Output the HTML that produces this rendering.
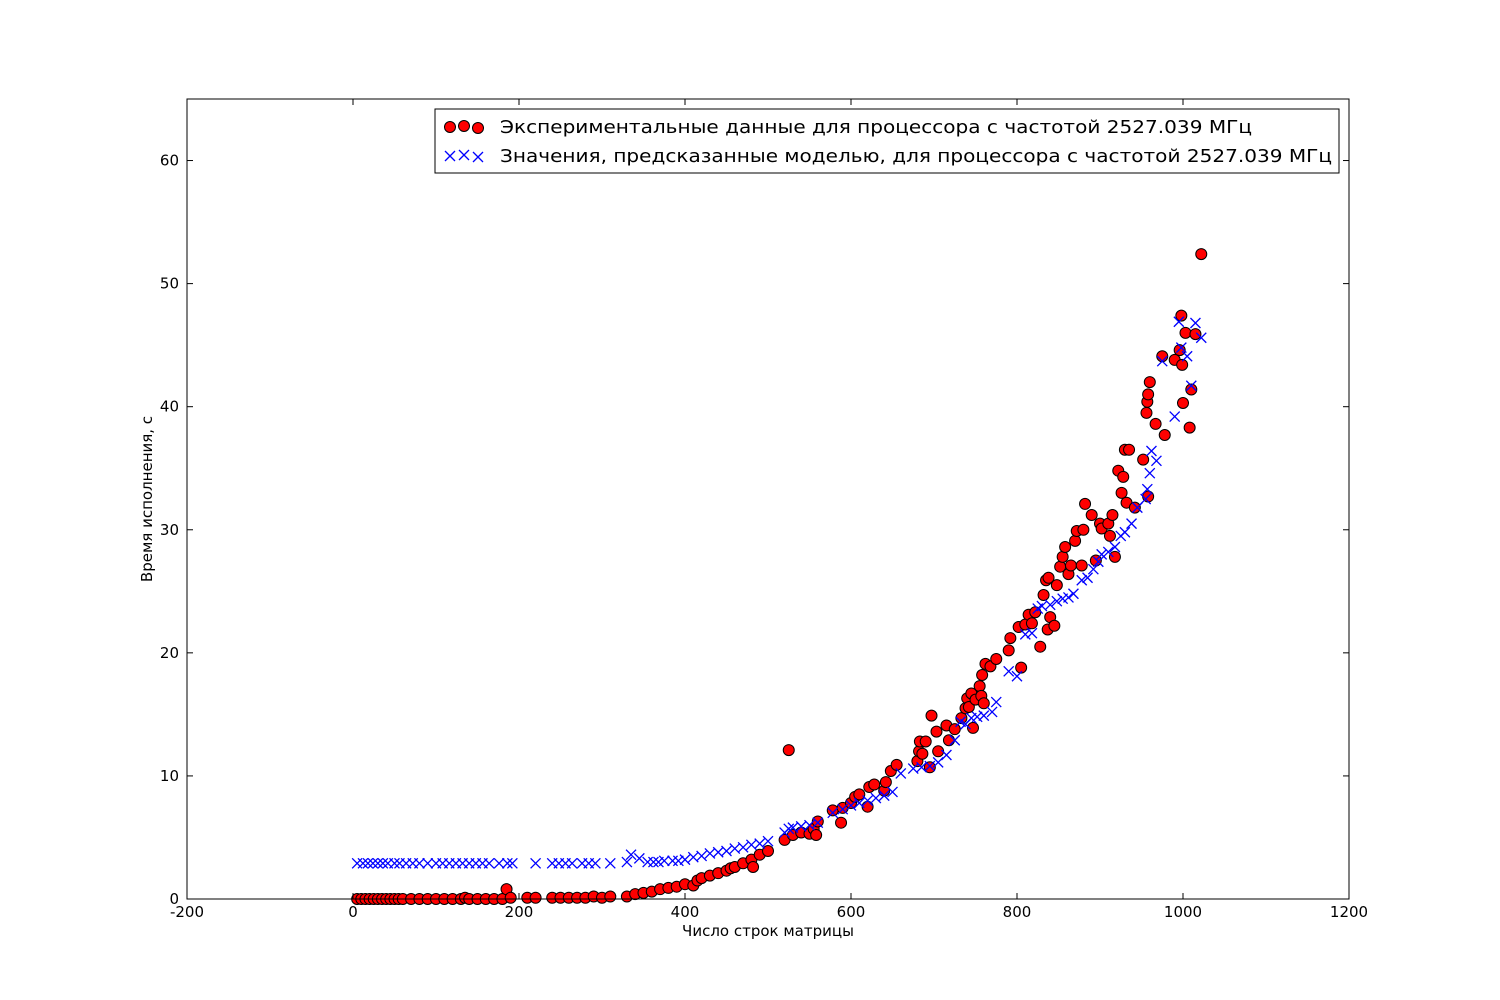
<!DOCTYPE html>
<html><head><meta charset="utf-8">
<style>
html,body{margin:0;padding:0;background:#fff;}
svg{display:block;font-family:"DejaVu Sans","Liberation Sans",sans-serif;}
</style></head>
<body>
<svg id="chart" width="1500" height="1000">
<rect x="0" y="0" width="1500" height="1000" fill="#fff"/>
<g id="marks"></g>
<rect x="187" y="99" width="1162" height="800" fill="none" stroke="#000" stroke-width="1"/>
<g id="axes"></g>
<text x="768" y="936" font-size="15" text-anchor="middle">Число строк матрицы</text>
<text x="152" y="499" font-size="15" text-anchor="middle" transform="rotate(-90 152 499)">Время исполнения, с</text>
<g>
<rect x="435" y="109" width="904" height="64" fill="#fff" stroke="#000" stroke-width="1"/>
<g>
<circle cx="450" cy="127" r="5.5" fill="#ff0000" stroke="#000"/>
<circle cx="464" cy="126" r="5.5" fill="#ff0000" stroke="#000"/>
<circle cx="478" cy="128" r="5.5" fill="#ff0000" stroke="#000"/>
<text x="500" y="133" font-size="18" textLength="752" lengthAdjust="spacingAndGlyphs">Экспериментальные данные для процессора с частотой 2527.039 МГц</text>
</g>
<g stroke="#0000ff" stroke-width="1.3">
<path d="M445,151 l10,10 m0,-10 l-10,10 M459,150 l10,10 m0,-10 l-10,10 M473,152 l10,10 m0,-10 l-10,10"/>
<text x="500" y="162" font-size="18" stroke="none" fill="#000" textLength="832" lengthAdjust="spacingAndGlyphs">Значения, предсказанные моделью, для процессора с частотой 2527.039 МГц</text>
</g>
</g>
</svg>
<script>
const xTicks=[-200,0,200,400,600,800,1000,1200];
const yTicks=[0,10,20,30,40,50,60];
const redX=[5,10,15,20,25,30,35,40,45,50,55,60,70,80,90,100,110,120,130,135,140,150,160,170,180,185,190,210,220,240,250,260,270,280,290,300,310,330,340,350,360,370,380,390,400,410,415,420,430,440,450,455,460,470,480,482,490,500,520,525,530,540,550,555,560,558,578,588,590,600,605,610,620,622,628,640,642,648,655,680,682,683,686,690,695,697,703,705,715,718,725,733,738,740,742,745,747,750,755,757,758,760,762,768,775,790,792,802,805,810,814,818,822,828,832,835,837,838,840,845,848,852,855,858,862,865,870,872,878,880,882,890,895,900,902,910,912,915,918,922,926,928,930,932,935,942,952,956,957,958,958,960,967,975,978,990,996,998,999,1000,1003,1008,1010,1015,1022];
const redY=[0,0,0,0,0,0,0,0,0,0,0,0,0,0,0,0,0,0,0,0.1,0,0,0,0,0,0.8,0.1,0.1,0.1,0.1,0.1,0.1,0.1,0.1,0.2,0.1,0.2,0.2,0.4,0.5,0.6,0.8,0.9,1.0,1.2,1.1,1.5,1.7,1.9,2.1,2.3,2.5,2.6,2.9,3.2,2.6,3.6,3.9,4.8,12.1,5.2,5.4,5.3,5.7,6.3,5.2,7.2,6.2,7.4,7.8,8.3,8.5,7.5,9.1,9.3,8.8,9.5,10.4,10.9,11.2,12.0,12.8,11.8,12.8,10.7,14.9,13.6,12.0,14.1,12.9,13.8,14.7,15.5,16.3,15.6,16.7,13.9,16.2,17.3,16.5,18.2,15.9,19.1,18.9,19.5,20.2,21.2,22.1,18.8,22.3,23.1,22.4,23.3,20.5,24.7,25.9,21.9,26.1,22.9,22.2,25.5,27.0,27.8,28.6,26.4,27.1,29.1,29.9,27.1,30.0,32.1,31.2,27.5,30.5,30.1,30.5,29.5,31.2,27.8,34.8,33.0,34.3,36.5,32.2,36.5,31.8,35.7,39.5,40.4,41.0,32.7,42.0,38.6,44.1,37.7,43.8,44.6,47.4,43.4,40.3,46.0,38.3,41.4,45.9,52.4];
const blueX=[5,12,18,24,30,36,42,50,56,64,72,80,90,100,108,116,124,132,140,148,156,164,176,186,192,220,240,248,256,264,276,284,292,310,330,335,345,355,362,368,375,385,392,400,410,420,430,440,450,460,470,480,490,500,520,525,530,540,550,560,578,590,600,610,620,630,640,650,660,675,685,695,705,715,725,732,738,745,752,760,770,775,790,800,810,818,825,830,840,848,855,862,868,878,885,892,898,902,910,918,925,930,938,945,955,957,960,962,968,975,990,995,998,1005,1010,1015,1022];
const blueY=[2.9,2.9,2.9,2.9,2.9,2.9,2.9,2.9,2.9,2.9,2.9,2.9,2.9,2.9,2.9,2.9,2.9,2.9,2.9,2.9,2.9,2.9,2.9,2.9,2.9,2.9,2.9,2.9,2.9,2.9,2.9,2.9,2.9,2.9,3.0,3.6,3.3,3.0,3.0,3.0,3.1,3.1,3.1,3.2,3.4,3.5,3.7,3.8,3.9,4.1,4.2,4.4,4.5,4.7,5.4,5.7,5.8,5.9,6.0,6.2,7.0,7.3,7.6,7.8,8.0,8.2,8.4,8.7,10.2,10.6,10.7,10.8,11.1,11.7,12.9,14.4,14.2,14.7,14.8,14.9,15.2,16.0,18.5,18.1,21.5,21.6,23.6,23.8,23.9,24.2,24.4,24.5,24.8,25.9,26.1,26.8,27.4,28.0,28.2,28.6,29.5,29.8,30.5,31.8,32.5,33.3,34.6,36.4,35.6,43.7,39.2,46.9,44.8,44.1,41.7,46.8,45.6];
const X0=187,X1=1349,Y0=899,Y1=99;
const sx=v=>X0+(v+200)/1400*(X1-X0);
const sy=v=>Y0-v/65*(Y0-Y1);
const NS="http://www.w3.org/2000/svg";
const axes=document.getElementById('axes');
const marks=document.getElementById('marks');
function mk(tag,attrs,parent){const e=document.createElementNS(NS,tag);for(const k in attrs)e.setAttribute(k,attrs[k]);parent.appendChild(e);return e;}
xTicks.forEach(t=>{
  const x=sx(t);
  mk('line',{x1:x,x2:x,y1:Y0,y2:Y0-6,stroke:'#000'},axes);
  mk('line',{x1:x,x2:x,y1:Y1,y2:Y1+6,stroke:'#000'},axes);
  const tx=mk('text',{x:x,y:Y0+18,'font-size':15,'text-anchor':'middle'},axes);
  tx.textContent=t;
  
  
});
yTicks.forEach(t=>{
  const y=sy(t);
  mk('line',{x1:X0,x2:X0+6,y1:y,y2:y,stroke:'#000'},axes);
  mk('line',{x1:X1,x2:X1-6,y1:y,y2:y,stroke:'#000'},axes);
  const tx=mk('text',{x:X0-8,y:y+5,'font-size':15,'text-anchor':'end'},axes);
  tx.textContent=t;
  
  
});
redX.forEach((v,i)=>{
  const c=mk('circle',{cx:sx(v),cy:sy(redY[i]),r:5.5,fill:'#ff0000',stroke:'#000','stroke-width':1},marks);
  
  
});
blueX.forEach((v,i)=>{
  const x=sx(v),y=sy(blueY[i]),d=5;
  const p=mk('path',{d:`M${x-d},${y-d}L${x+d},${y+d}M${x+d},${y-d}L${x-d},${y+d}`,stroke:'#0000ff','stroke-width':1.3,fill:'none'},marks);
  
  
});
</script>
</body></html>
